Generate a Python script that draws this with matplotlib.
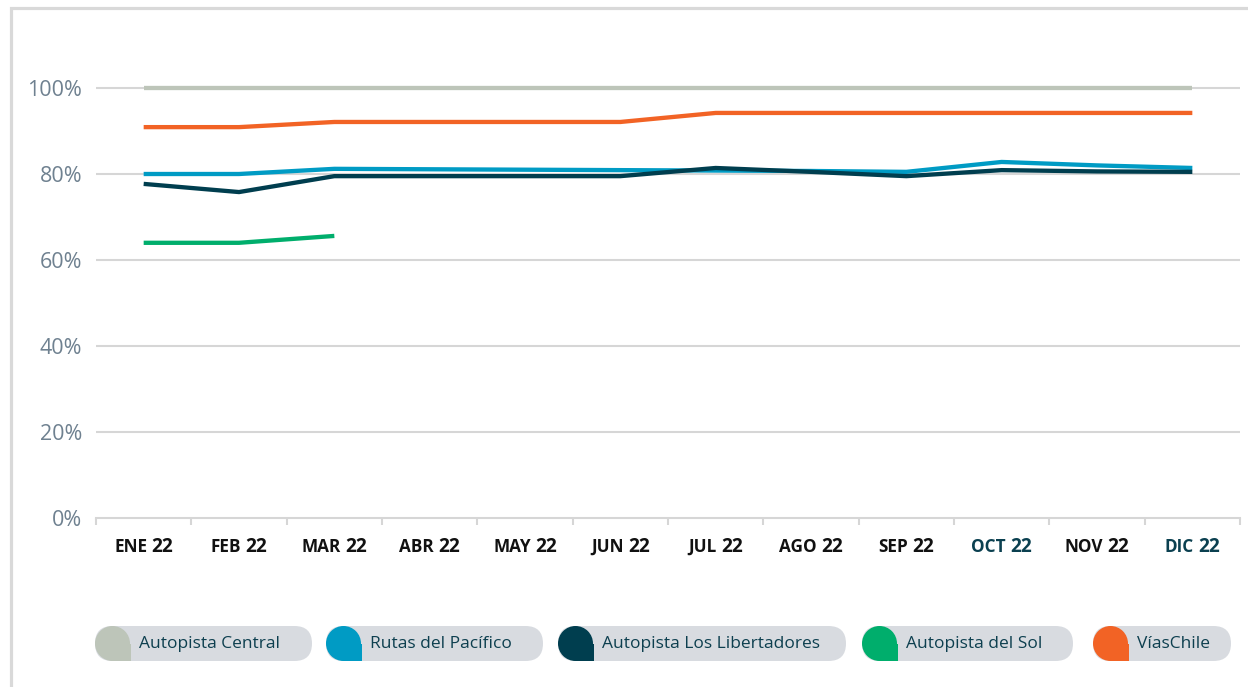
#!/usr/bin/env python3
# coding: utf-8

"""
Ocupación mensual por autopista, 2022 - line chart with pill legend
"""

import matplotlib
matplotlib.use('Agg')
import matplotlib.pyplot as plt
from matplotlib.patches import FancyBboxPatch, Circle, Rectangle
from matplotlib.offsetbox import TextArea, HPacker, AnnotationBbox

plt.rcParams['font.family'] = ['Open Sans', 'DejaVu Sans']

months = ['ENE', 'FEB', 'MAR', 'ABR', 'MAY', 'JUN',
          'JUL', 'AGO', 'SEP', 'OCT', 'NOV', 'DIC']
year = '22'

series_names = ['Autopista Central', 'Rutas del Pacífico',
                'Autopista Los Libertadores', 'Autopista del Sol', 'VíasChile']

autopista_central = [100, 100, 100, 100, 100, 100, 100, 100, 100, 100, 100, 100]
rutas_pacifico = [80.0, 80.0, 81.2, 81.1, 81.0, 80.9, 80.8, 80.7, 80.5, 82.8, 82.0, 81.4]
los_libertadores = [77.7, 75.8, 79.5, 79.5, 79.5, 79.5, 81.4, 80.5, 79.5, 80.9, 80.6, 80.5]
autopista_sol = [64.0, 64.0, 65.6]
vias_chile = [90.9, 90.9, 92.1, 92.1, 92.1, 92.1, 94.2, 94.2, 94.2, 94.2, 94.2, 94.2]

colors = ['#bdc5b9', '#009bc4', '#003e4f', '#00ae6c', '#f26325']
month_colors = ['#111111'] * 9 + ['#0b4050', '#111111', '#0b4050']

W, H = 1248, 687
fig = plt.figure(figsize=(W / 100, H / 100), dpi=100)

ax = fig.add_axes([96 / W, 1 - 518 / H, (1240 - 96) / W, (518 - 45) / H])
x = list(range(len(months)))

grid_c = '#d6d6d6'
for v in [20, 40, 60, 80, 100]:
    ax.axhline(v, color=grid_c, lw=1.5, zorder=1)

data = [autopista_central, rutas_pacifico, los_libertadores, autopista_sol, vias_chile]
order = [0, 4, 1, 2, 3]
for i in order:
    vals = data[i]
    ax.plot(x[:len(vals)], vals, color=colors[i], lw=3.1, zorder=3,
            solid_capstyle='butt', solid_joinstyle='miter')

ax.set_xlim(-0.5, 11.5)
ax.set_ylim(0, 110)
for s in ['top', 'right', 'left']:
    ax.spines[s].set_visible(False)
ax.spines['bottom'].set_color(grid_c)
ax.spines['bottom'].set_linewidth(1.5)

ax.set_yticks([0, 20, 40, 60, 80, 100])
ax.set_yticklabels(['0%', '20%', '40%', '60%', '80%', '100%'])
ax.tick_params(axis='y', length=0, pad=10, labelsize=15.5, labelcolor='#6f8190')

ax.set_xticks([i - 0.5 for i in range(len(months) + 1)])
ax.set_xticklabels([])
ax.tick_params(axis='x', length=5, width=1.5, color=grid_c, direction='out')

for i, m in enumerate(months):
    c = month_colors[i]
    box = HPacker(children=[
        TextArea(m, textprops=dict(fontsize=12.3, fontweight='bold', color=c)),
        TextArea(year, textprops=dict(fontsize=13.8, fontweight='bold', color=c)),
    ], sep=3, align='baseline', pad=0)
    ab = AnnotationBbox(box, (i, -21), xycoords=('data', 'axes points'),
                        box_alignment=(0.5, 0.5), frameon=False)
    ax.add_artist(ab)

# overlay in pixel coordinates for the frame and the legend
ov = fig.add_axes([0, 0, 1, 1], zorder=5)
ov.set_xlim(0, W)
ov.set_ylim(H, 0)
ov.axis('off')
ov.patch.set_alpha(0)

frame_c = '#d9d9d9'
ov.plot([11, 11, W], [H, 8, 8], color=frame_c, lw=2.3, solid_joinstyle='miter')

pills = [(95, 312), (326, 543), (558, 846), (862, 1073), (1093, 1231)]
py0, ph = 626, 35
r = ph / 2
for (x0, x1), name, col in zip(pills, series_names, colors):
    ov.add_patch(FancyBboxPatch((x0, py0), x1 - x0, ph,
                                boxstyle=f'round,pad=0,rounding_size={r}',
                                fc='#d8dbe0', ec='none'))
    ov.add_patch(Circle((x0 + r, py0 + r), r, fc=col, ec='none'))
    ov.add_patch(Rectangle((x0 + r, py0 + r), r + 1, r, fc=col, ec='none'))
    ov.text(x0 + 2 * r + 9, py0 + r + 1, name, fontsize=12.5, color='#0d3f4f',
            ha='left', va='center')

fig.savefig('out.png', dpi=100)
